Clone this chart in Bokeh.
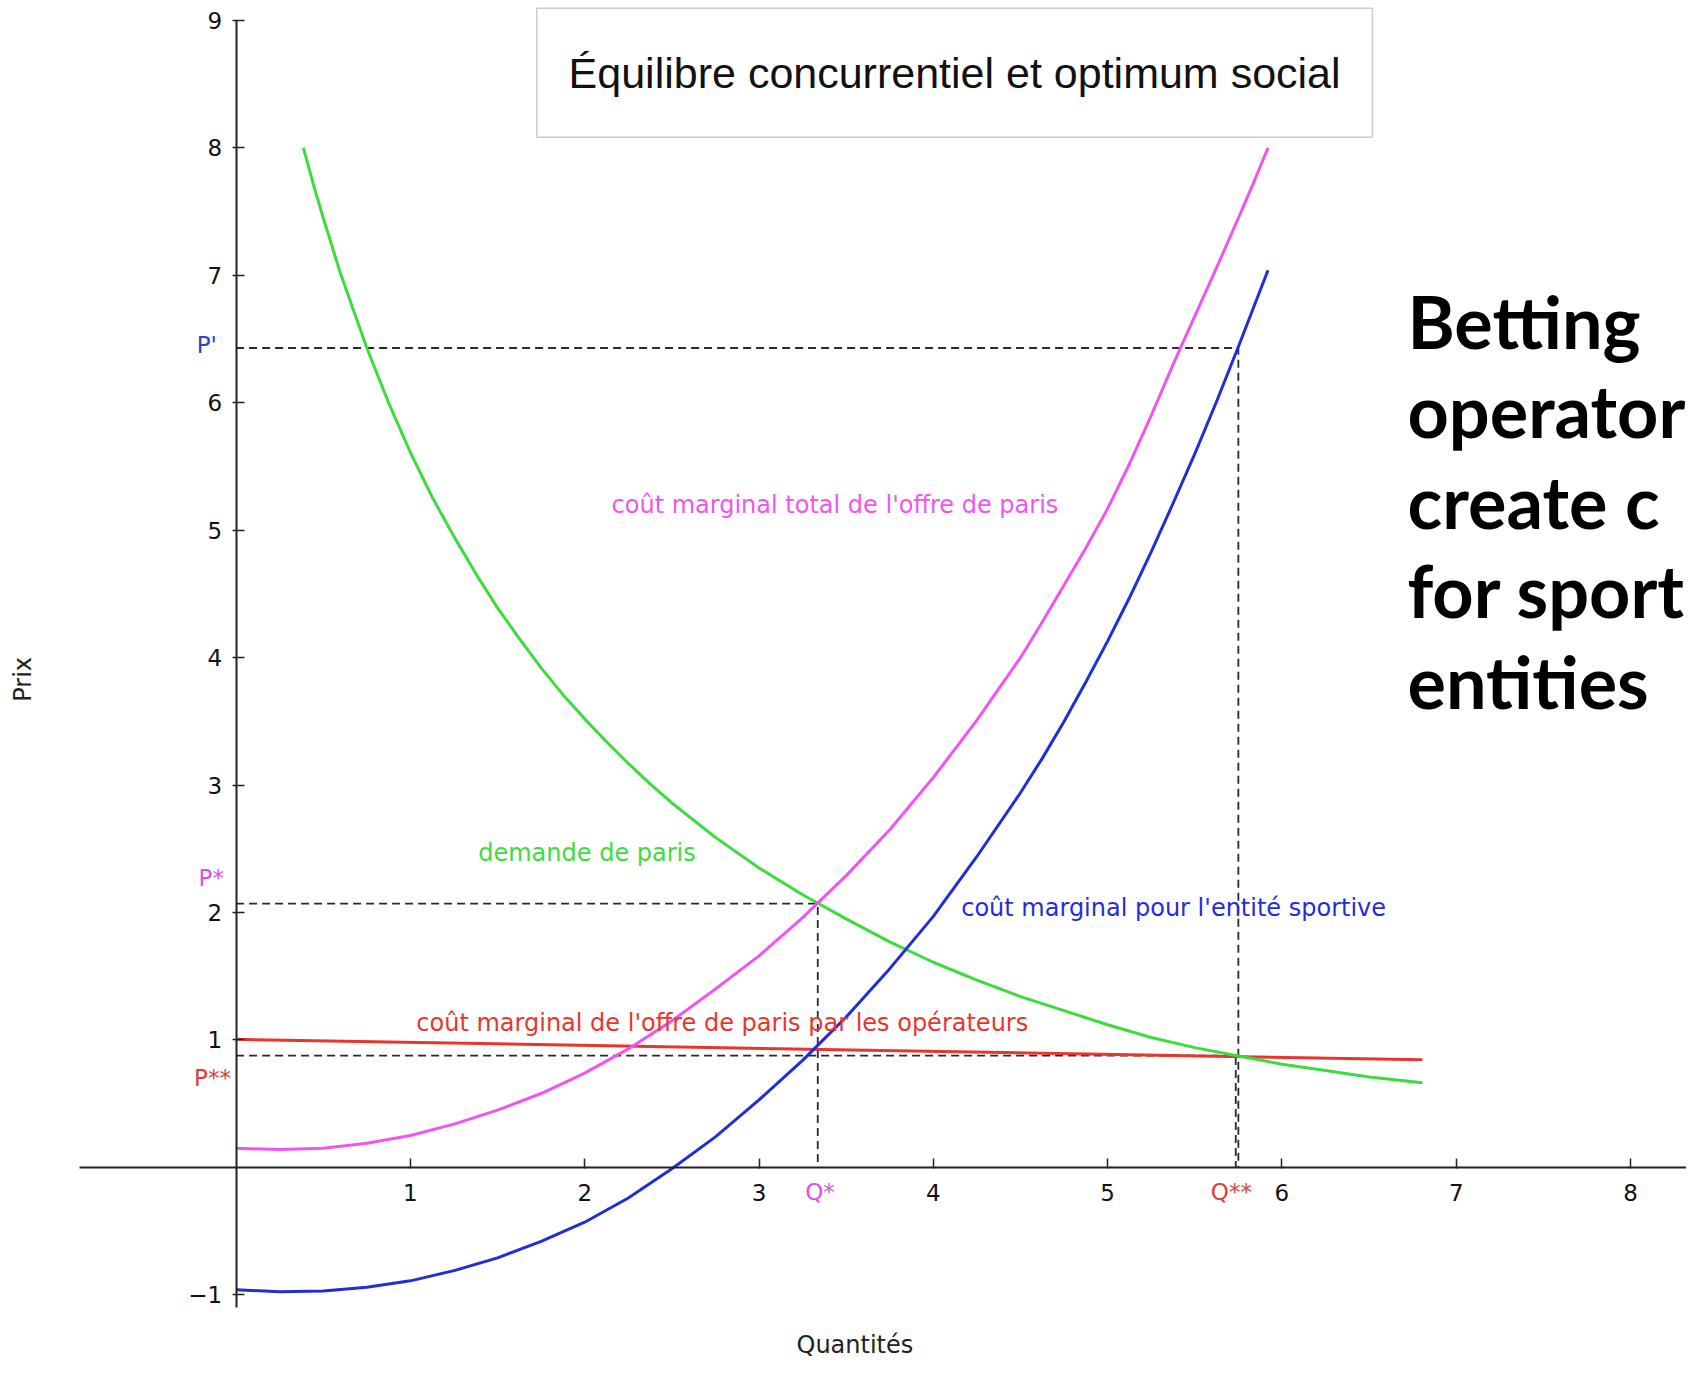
from bokeh.plotting import figure
from bokeh.models import FixedTicker, Label, BoxAnnotation, ColumnDataSource
from bokeh.core.properties import value
from bokeh.embed import file_html
from bokeh.resources import INLINE

# ---------------- data ----------------
q_offre = [0, 0.25, 0.5, 0.75, 1.0, 1.25, 1.5, 1.75, 2.0, 2.25, 2.5, 2.75, 3.0,
           3.25, 3.5, 3.75, 4.0, 4.25, 4.5, 4.625, 4.75, 4.875, 5.0, 5.125, 5.25,
           5.375, 5.5, 5.625, 5.75, 5.835, 5.92]
cm_total = [0.15, 0.14, 0.15, 0.19, 0.25, 0.34, 0.45, 0.58, 0.74, 0.93, 1.15, 1.40, 1.66,
            1.96, 2.29, 2.65, 3.06, 3.51, 4.00, 4.28, 4.57, 4.86, 5.17, 5.52, 5.90,
            6.30, 6.68, 7.06, 7.45, 7.72, 8.00]
cm_entite = [-0.96, -0.975, -0.97, -0.94, -0.89, -0.81, -0.71, -0.58, -0.43, -0.24, -0.01, 0.24, 0.53,
             0.84, 1.18, 1.56, 1.97, 2.44, 2.94, 3.21, 3.50, 3.81, 4.13, 4.47, 4.83,
             5.21, 5.60, 6.01, 6.44, 6.74, 7.04]

q_demande = [0.386, 0.45, 0.5, 0.6, 0.75, 0.875, 1.0, 1.125, 1.25, 1.375, 1.5, 1.625, 1.75,
             1.875, 2.0, 2.125, 2.25, 2.375, 2.5, 2.75, 3.0, 3.25, 3.5, 3.75, 4.0, 4.25,
             4.5, 4.75, 5.0, 5.25, 5.5, 5.75, 6.0, 6.25, 6.5, 6.806]
demande = [8.00, 7.68, 7.45, 7.01, 6.43, 6.00, 5.61, 5.26, 4.95, 4.66, 4.39, 4.15, 3.92,
           3.71, 3.52, 3.34, 3.17, 3.01, 2.86, 2.59, 2.35, 2.14, 1.95, 1.77, 1.61, 1.47,
           1.34, 1.23, 1.12, 1.02, 0.94, 0.875, 0.81, 0.76, 0.71, 0.665]

q_operateurs = [0, 6.806]
cm_operateurs = [1.005, 0.845]

# equilibrium points
q_star, p_star = 3.337, 2.07
q_2star, p_2star = 5.735, 0.877
q_prime, p_prime = 5.75, 6.43

x_ticks = [1, 2, 3, 4, 5, 6, 7, 8]
y_ticks = [-1, 1, 2, 3, 4, 5, 6, 7, 8, 9]

# special axis labels
p_labels = ["P'", "P*", "P**"]
p_label_y = [6.45, 2.27, 0.70]
p_label_x = [-0.11, -0.07, -0.03]
p_label_colors = ["#3340cc", "#e050e0", "#e03a3a"]
q_labels = ["Q*", "Q**"]
q_label_x = [3.35, 5.71]
q_label_colors = ["#e050e0", "#e03a3a"]

title_text = "Équilibre concurrentiel et optimum social"
side_lines = ["Betting", "operator", "create c", "for sport", "entities"]
side_baselines = [6.64, 5.94, 5.23, 4.53, 3.82]

GREEN = "#3ddc3d"
MAGENTA = "#f055f0"
BLUE = "#1f2ed6"
RED = "#e8362e"
FONT = "DejaVu Sans"

# ---------------- figure ----------------
p = figure(width=1686, height=1360, x_range=(-1.3517, 8.321), y_range=(-1.515, 9.157),
           output_backend="svg", toolbar_location=None, min_border=0)
p.outline_line_color = None
p.xgrid.visible = False
p.ygrid.visible = False
p.background_fill_color = "white"

for ax in (p.xaxis, p.yaxis):
    ax.fixed_location = 0
    ax.axis_line_color = "#222222"
    ax.axis_line_width = 2
    ax.major_tick_line_color = "#222222"
    ax.major_tick_line_width = 1.5
    ax.minor_tick_line_color = None
    ax.major_label_text_font = FONT
    ax.major_label_text_font_size = "23px"
    ax.major_label_text_color = "#111111"

p.xaxis.bounds = (-0.9, 8.5)
p.xaxis.ticker = FixedTicker(ticks=x_ticks)
p.xaxis.major_tick_in = 9
p.xaxis.major_tick_out = 1
p.xaxis.major_label_standoff = 16

p.yaxis.bounds = (-1.1, 9)
p.yaxis.ticker = FixedTicker(ticks=y_ticks)
p.yaxis.major_tick_in = 8
p.yaxis.major_tick_out = 4
p.yaxis.major_label_standoff = 10
p.yaxis.major_label_overrides = {-1: "−1"}

# dashed guide lines
dash_kw = dict(line_color="#2a2a2a", line_width=1.8, line_dash="8 5")
p.line([0, q_prime, q_prime], [p_prime, p_prime, 0], **dash_kw)
p.line([0, q_star, q_star], [p_star, p_star, 0], **dash_kw)
p.line([0, q_2star, q_2star], [p_2star, p_2star, 0], **dash_kw)

# curves
p.line(q_operateurs, cm_operateurs, line_color=RED, line_width=3)
p.line(q_demande, demande, line_color=GREEN, line_width=3, line_join="round")
p.line(q_offre, cm_total, line_color=MAGENTA, line_width=3, line_join="round")
p.line(q_offre, cm_entite, line_color=BLUE, line_width=3, line_join="round")

# curve labels
def lab(x, y, text, color, size="24px", align="left", baseline="middle", font=FONT,
        style="normal", angle=0.0):
    p.add_layout(Label(x=x, y=y, text=text, text_color=color, text_font=font,
                       text_font_size=size, text_align=align, text_baseline=baseline,
                       text_font_style=style, angle=angle))

lab(2.154, 5.196, "coût marginal total de l'offre de paris", MAGENTA)
lab(1.389, 2.47, "demande de paris", GREEN)
lab(4.16, 2.036, "coût marginal pour l'entité sportive", BLUE)
lab(1.034, 1.133, "coût marginal de l'offre de paris par les opérateurs", RED)

# special axis labels
src_p = ColumnDataSource(dict(x=p_label_x, y=p_label_y, t=p_labels, c=p_label_colors))
p.text(x="x", y="y", text="t", text_color="c", source=src_p, text_font=value(FONT),
       text_font_size="23px", text_align="right", text_baseline="middle")
src_q = ColumnDataSource(dict(x=q_label_x, y=[-0.19] * len(q_label_x), t=q_labels, c=q_label_colors))
p.text(x="x", y="y", text="t", text_color="c", source=src_q, text_font=value(FONT),
       text_font_size="23px", text_align="center", text_baseline="middle")

# axis titles
lab(3.55, -1.39, "Quantités", "#222222", size="24px", align="center")
lab(-1.22, 3.83, "Prix", "#222222", size="24px", align="center", angle=1.5708)

# title box
p.add_layout(BoxAnnotation(left=1.725, right=6.519, top=9.097, bottom=8.083,
                           fill_color="white", fill_alpha=1.0,
                           line_color="#555555", line_width=1.5))
lab(4.122, 8.59, title_text, "#111111", size="43px", align="center",
    font="Liberation Sans")

# big side text
src_s = ColumnDataSource(dict(x=[6.72] * len(side_lines), y=side_baselines, t=side_lines))
p.text(x="x", y="y", text="t", source=src_s, text_font=value("Lato"),
       text_font_style="bold", text_font_size="72px", text_color="#000000",
       text_align="left", text_baseline="alphabetic")

open("out.html", "w").write(file_html(p, INLINE))
